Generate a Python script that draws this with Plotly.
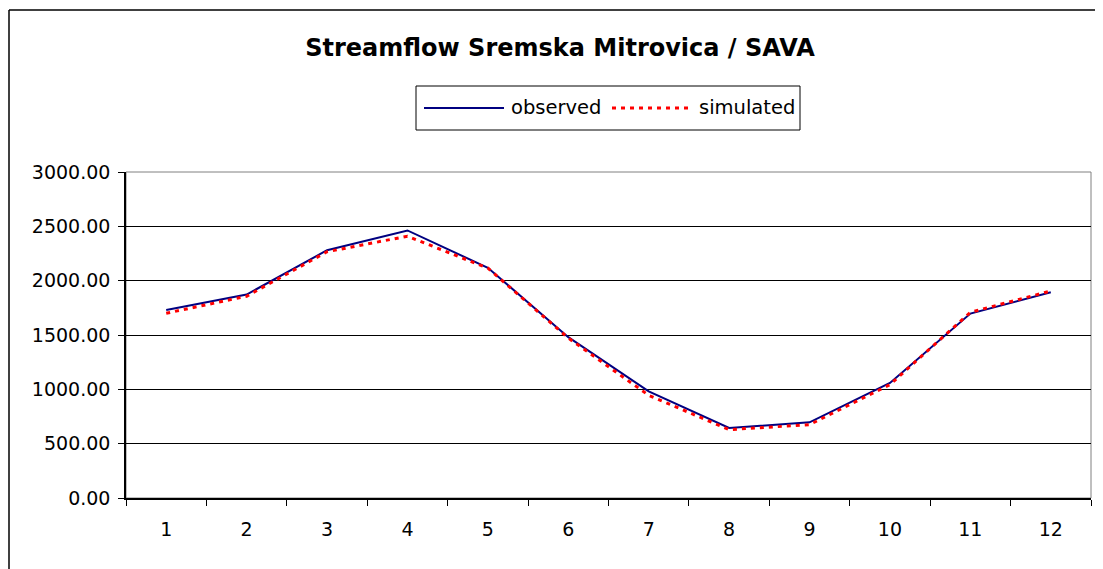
import plotly.graph_objects as go

months = ["1", "2", "3", "4", "5", "6", "7", "8", "9", "10", "11", "12"]
observed = [1730, 1872, 2280, 2462, 2118, 1480, 982, 645, 696, 1059, 1697, 1893]
simulated = [1700, 1857, 2266, 2409, 2115, 1472, 945, 629, 675, 1043, 1709, 1905]
y_ticks = [0, 500, 1000, 1500, 2000, 2500, 3000]

# the page body adds an 8px margin, so the figure is shrunk by that amount
OFF = 8
W, H = 1103 - OFF, 569 - OFF
L, R, T, B = 126 - OFF, 12, 172 - OFF, 71
PW, PH = W - L - R, H - T - B


def px(x):
    # reference page pixel -> paper x
    return (x - OFF - L) / PW


def py(y):
    # reference page pixel -> paper y
    return (H - B - (y - OFF)) / PH


FONT = "DejaVu Sans"

fig = go.Figure()
fig.add_trace(go.Scatter(x=months, y=observed, mode="lines", name="observed",
                         line=dict(color="#000080", width=2), showlegend=False))
fig.add_trace(go.Scatter(x=months, y=simulated, mode="lines", name="simulated",
                         line=dict(color="#ff0000", width=3, dash="4px,5px"), showlegend=False))

shapes = [
    dict(type="rect", xref="paper", yref="paper", x0=0, x1=1, y0=0, y1=1,
         line=dict(color="#808080", width=1), layer="below"),
    dict(type="line", xref="paper", yref="paper", x0=px(9), x1=px(1103), y0=py(10), y1=py(10),
         line=dict(color="black", width=1.5)),
    dict(type="line", xref="paper", yref="paper", x0=px(9), x1=px(9), y0=py(10), y1=py(569),
         line=dict(color="black", width=1.5)),
    dict(type="rect", xref="paper", yref="paper", x0=px(416), x1=px(800), y0=py(130), y1=py(86),
         line=dict(color="black", width=1), fillcolor="white"),
    dict(type="line", xref="paper", yref="paper", x0=px(424), x1=px(504), y0=py(108), y1=py(108),
         line=dict(color="#000080", width=2)),
    dict(type="line", xref="paper", yref="paper", x0=px(612), x1=px(690), y0=py(108), y1=py(108),
         line=dict(color="#ff0000", width=3, dash="4px,5px")),
]

annotations = [
    dict(text="observed", xref="paper", yref="paper", x=px(509), y=py(107), xanchor="left",
         yanchor="middle", showarrow=False, font=dict(family=FONT, size=19.5, color="black")),
    dict(text="simulated", xref="paper", yref="paper", x=px(697), y=py(107), xanchor="left",
         yanchor="middle", showarrow=False, font=dict(family=FONT, size=19.5, color="black")),
]

fig.update_layout(
    width=W, height=H,
    margin=dict(l=L, r=R, t=T, b=B),
    paper_bgcolor="white", plot_bgcolor="white",
    title=dict(text="<b>Streamflow Sremska Mitrovica / SAVA</b>", x=(560 - OFF) / W, xanchor="center",
               y=1 - (48 - OFF) / H, yanchor="middle",
               font=dict(family=FONT, size=24, color="black")),
    shapes=shapes, annotations=annotations,
    showlegend=False,
)

fig.update_xaxes(
    type="category", range=[-0.5, 11.5], tickson="boundaries",
    ticks="outside", ticklen=6, tickcolor="black",
    showline=True, linecolor="black", linewidth=1.5,
    showgrid=False, zeroline=False,
    tickfont=dict(family=FONT, size=19, color="black"),
    ticklabelstandoff=13,
)
fig.update_yaxes(
    range=[0, 3000], tickvals=y_ticks, tickformat=".2f",
    ticks="outside", ticklen=6, tickcolor="black",
    showline=True, linecolor="black", linewidth=1.5,
    showgrid=True, gridcolor="black", gridwidth=1, zeroline=False,
    tickfont=dict(family=FONT, size=19, color="black"),
    ticklabelstandoff=4,
)

fig.write_html("out.html")
